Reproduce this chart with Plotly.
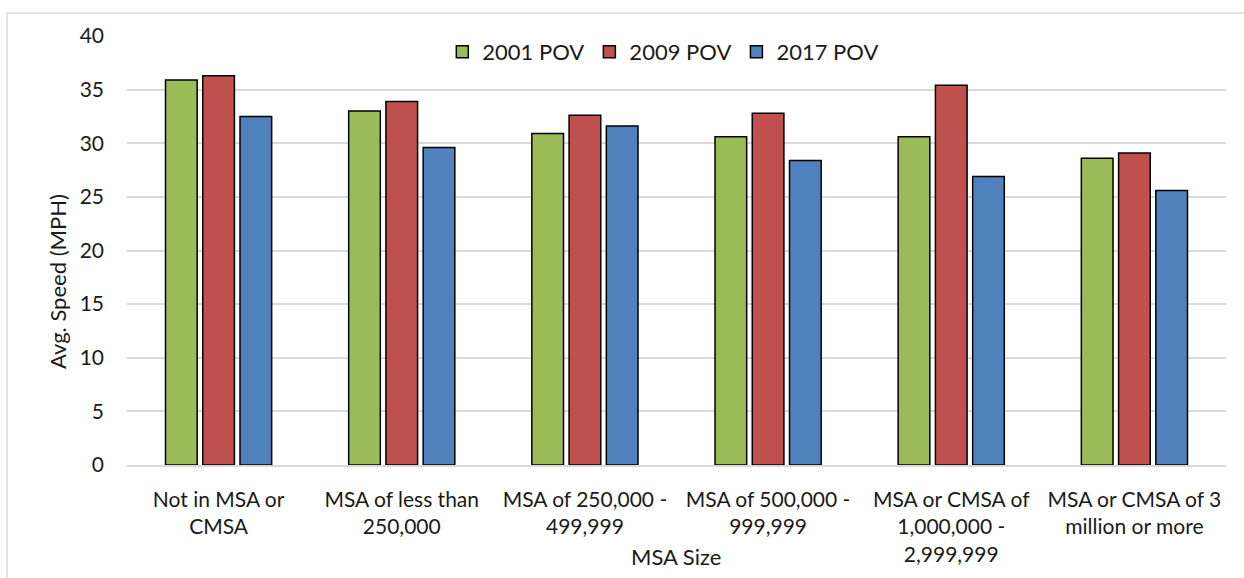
import plotly.graph_objects as go

# MSA size categories (wrapped like the original axis labels)
categories = [
    "Not in MSA or<br>CMSA",
    "MSA of less than<br>250,000",
    "MSA of 250,000 -<br>499,999",
    "MSA of 500,000 -<br>999,999",
    "MSA or CMSA of<br>1,000,000 -<br>2,999,999",
    "MSA or CMSA of 3<br>million or more",
]
pov_2001 = [35.9, 33.0, 30.9, 30.6, 30.6, 28.6]
pov_2009 = [36.3, 33.9, 32.6, 32.8, 35.4, 29.1]
pov_2017 = [32.5, 29.6, 31.6, 28.4, 26.9, 25.6]

series = [
    ("2001 POV", pov_2001, "#9BBB59"),
    ("2009 POV", pov_2009, "#C0504D"),
    ("2017 POV", pov_2017, "#4F81BD"),
]

FONT = "Lato"
TXT = "#1a1a1a"

fig = go.Figure()
for name, vals, col in series:
    fig.add_trace(go.Bar(
        x=categories, y=vals, name=name,
        marker=dict(color=col, line=dict(color="black", width=1.5)),
    ))

fig.update_layout(
    width=1244, height=578,
    margin=dict(l=127, r=18, t=36, b=111),
    paper_bgcolor="white", plot_bgcolor="white",
    barmode="group", bargap=0.39, bargroupgap=0.15,
    font=dict(family=FONT, size=21, color=TXT),
    showlegend=True,
    legend=dict(
        orientation="h", x=0.488, xanchor="center", y=0.963, yanchor="middle",
        font=dict(size=22, color=TXT), bgcolor="rgba(0,0,0,0)",
        itemwidth=30, tracegroupgap=0,
    ),
    shapes=[dict(
        type="rect", xref="paper", yref="paper",
        x0=-0.1092, y0=-0.5, x1=1.1, y1=1.0534,
        line=dict(color="#d9d9d9", width=1.5), layer="below",
    )],
    annotations=[
        dict(text="Avg. Speed (MPH)", xref="paper", yref="paper",
             x=-0.0628, y=0.429, xanchor="center", yanchor="middle",
             textangle=-90, showarrow=False, font=dict(size=22, color=TXT)),
        dict(text="MSA Size", xref="paper", yref="paper",
             x=0.4995, y=-0.213, xanchor="center", yanchor="middle",
             showarrow=False, font=dict(size=22, color=TXT)),
    ],
)

fig.update_yaxes(
    range=[0, 40], dtick=5, showgrid=True, gridcolor="#d9d9d9", gridwidth=1.5,
    zeroline=False, showline=False, ticks="", ticklabelstandoff=22,
    tickfont=dict(size=21, color=TXT),
)
fig.update_xaxes(
    showline=True, linecolor="#d9d9d9", linewidth=1.5, ticks="",
    ticklabelstandoff=15, tickfont=dict(size=21, color=TXT),
)

# drop the default page margin so the chart sits at the window's top-left
fig.write_html("out.html", config={"displayModeBar": False},
               post_script="document.body.style.margin='0';")
